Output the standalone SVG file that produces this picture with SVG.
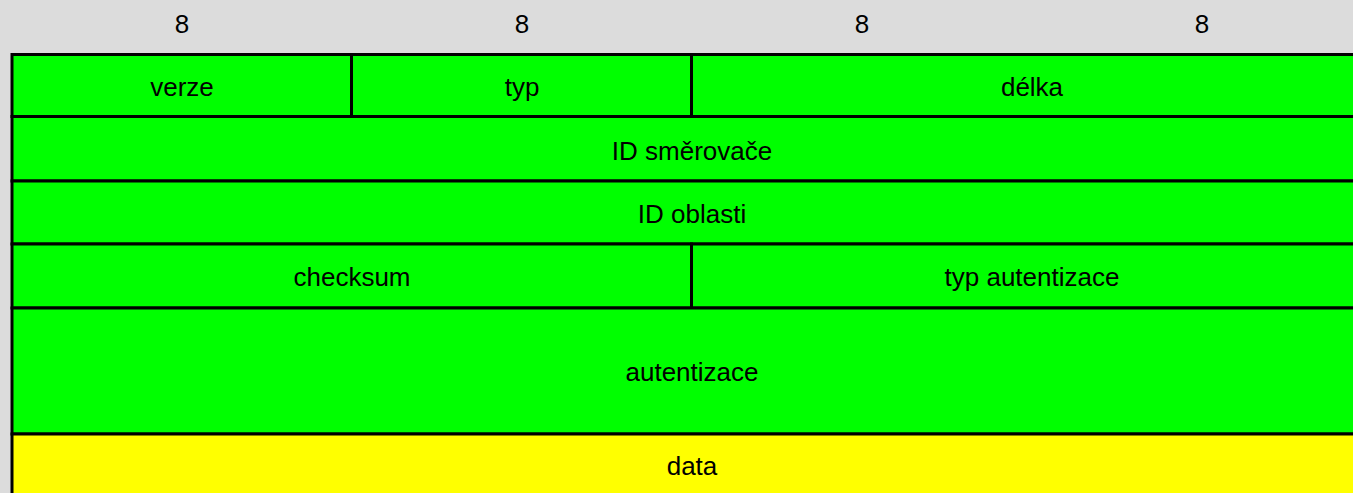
<svg xmlns="http://www.w3.org/2000/svg" width="1353" height="493" viewBox="0 0 1353 493">
<style>
.t{font-family:"Liberation Sans",Arial,sans-serif;font-size:26px;fill:#000;text-anchor:middle}
.g{fill:#00ff00;stroke:#000;stroke-width:3}
.y{fill:#ffff00;stroke:#000;stroke-width:3}
</style>
<rect x="0" y="0" width="1353" height="493" fill="#dcdcdc"/>
<g id="header">
<text class="t" x="182" y="33">8</text>
<text class="t" x="522" y="33">8</text>
<text class="t" x="862" y="33">8</text>
<text class="t" x="1202" y="33">8</text>
</g>
<g id="verze"><rect class="g" x="12" y="54.5" width="339.5" height="62"/><text class="t" x="182" y="95.5">verze</text></g>
<g id="typ"><rect class="g" x="351.5" y="54.5" width="340" height="62"/><text class="t" x="522" y="95.5">typ</text></g>
<g id="delka"><rect class="g" x="691.5" y="54.5" width="700" height="62"/><text class="t" x="1032" y="95.5">délka</text></g>
<g id="id-smerovace"><rect class="g" x="12" y="116.5" width="1380" height="64.5"/><text class="t" x="692" y="159.5">ID směrovače</text></g>
<g id="id-oblasti"><rect class="g" x="12" y="181" width="1380" height="63"/><text class="t" x="692" y="222.5">ID oblasti</text></g>
<g id="checksum"><rect class="g" x="12" y="244" width="679.5" height="64"/><text class="t" x="352" y="286">checksum</text></g>
<g id="typ-autentizace"><rect class="g" x="691.5" y="244" width="700" height="64"/><text class="t" x="1032" y="286">typ autentizace</text></g>
<g id="autentizace"><rect class="g" x="12" y="308" width="1380" height="126"/><text class="t" x="692" y="381">autentizace</text></g>
<g id="data"><rect class="y" x="12" y="434" width="1380" height="100"/><text class="t" x="692" y="475">data</text></g>
<g id="connectors"></g>
</svg>
